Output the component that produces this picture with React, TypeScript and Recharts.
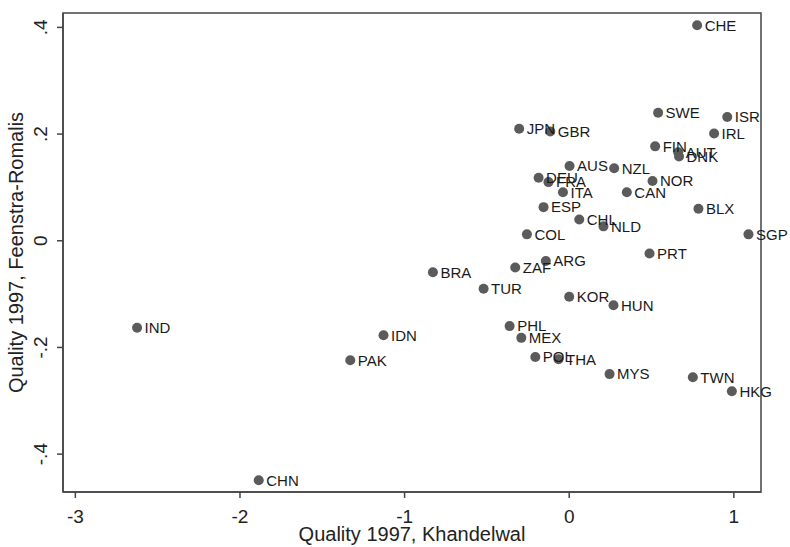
import {
  ScatterChart,
  Scatter,
  XAxis,
  YAxis,
  LabelList,
  Label,
  ReferenceArea,
} from "recharts";

// country codes and the two quality measures
const countries = [
  "CHE", "SWE", "ISR", "JPN", "GBR", "IRL", "FIN", "AUT", "DNK", "AUS",
  "NZL", "DEU", "FRA", "NOR", "ITA", "CAN", "ESP", "BLX", "CHL", "NLD",
  "COL", "SGP", "PRT", "BRA", "ZAF", "ARG", "TUR", "KOR", "HUN", "PHL",
  "MEX", "POL", "THA", "MYS", "TWN", "HKG", "IND", "IDN", "PAK", "CHN",
];

const khandelwal = [
  0.777, 0.54, 0.96, -0.304, -0.115, 0.88, 0.522, 0.662, 0.667, 0.002,
  0.273, -0.186, -0.126, 0.506, -0.038, 0.35, -0.156, 0.785, 0.061, 0.208,
  -0.257, 1.089, 0.488, -0.828, -0.328, -0.142, -0.52, 0.0, 0.269, -0.362,
  -0.291, -0.206, -0.065, 0.245, 0.751, 0.988, -2.625, -1.128, -1.33, -1.886,
];

const feenstraRomalis = [
  0.404, 0.24, 0.232, 0.21, 0.205, 0.201, 0.177, 0.166, 0.158, 0.14,
  0.136, 0.118, 0.11, 0.112, 0.091, 0.091, 0.063, 0.06, 0.04, 0.027,
  0.012, 0.012, -0.024, -0.059, -0.05, -0.038, -0.09, -0.105, -0.121, -0.16,
  -0.182, -0.218, -0.222, -0.25, -0.256, -0.282, -0.163, -0.177, -0.224, -0.449,
];

const xTicks = [-3, -2, -1, 0, 1];
const yTicks = [-0.4, -0.2, 0, 0.2, 0.4];

const xDomain = [-3.075, 1.165];
const yDomain = [-0.471, 0.427];

const FONT = "'Liberation Sans', Arial, sans-serif";
const FRAME = "#444";

const points = countries.map((name, i) => ({
  name,
  x: khandelwal[i],
  y: feenstraRomalis[i],
}));

// Stata style: ".4" instead of "0.4"
const fmtY = (v: number) => {
  if (v === 0) return "0";
  return v.toFixed(1).replace("0.", ".");
};

const YTick = ({ x, y, payload }: any) => (
  <text
    x={x - 8}
    y={y}
    transform={`rotate(-90, ${x - 8}, ${y})`}
    textAnchor="middle"
    fontSize={19}
    fontFamily={FONT}
    fill="#222"
  >
    {fmtY(payload.value)}
  </text>
);

const Dot = (props: any) => (
  <circle cx={props.cx} cy={props.cy} r={5} fill="#5b5b5b" />
);

export default function App() {
  return (
    <div style={{ position: "absolute", left: 0, top: 0, background: "#fff" }}>
      <ScatterChart
        width={790}
        height={547}
        margin={{ top: 13, right: 29, left: 0, bottom: 0 }}
      >
        <XAxis
          type="number"
          dataKey="x"
          domain={xDomain}
          ticks={xTicks}
          allowDataOverflow
          height={55}
          tickSize={6}
          tickMargin={12}
          stroke={FRAME}
          strokeWidth={1.5}
          tick={{ fill: "#222", fontSize: 19, fontFamily: FONT }}
        >
          <Label
            value="Quality 1997, Khandelwal"
            position="insideBottom"
            offset={6}
            fill="#222"
            fontSize={20}
            fontFamily={FONT}
          />
        </XAxis>
        <YAxis
          type="number"
          dataKey="y"
          domain={yDomain}
          ticks={yTicks}
          allowDataOverflow
          width={63}
          tickSize={6}
          tickMargin={2}
          stroke={FRAME}
          strokeWidth={1.5}
          tick={<YTick />}
        >
          <Label
            content={({ viewBox }: any) => {
              const cy = viewBox.y + viewBox.height / 2;
              return (
                <text
                  x={23}
                  y={cy}
                  transform={`rotate(-90, 23, ${cy})`}
                  textAnchor="middle"
                  fontSize={20}
                  fontFamily={FONT}
                  fill="#222"
                >
                  Quality 1997, Feenstra-Romalis
                </text>
              );
            }}
          />
        </YAxis>
        <ReferenceArea
          x1={xDomain[0]}
          x2={xDomain[1]}
          y1={yDomain[0]}
          y2={yDomain[1]}
          fill="none"
          stroke={FRAME}
          strokeWidth={1.5}
        />
        <Scatter data={points} shape={<Dot />} isAnimationActive={false}>
          <LabelList
            dataKey="name"
            position="right"
            offset={3}
            fill="#1a1a1a"
            fontSize={15}
            fontFamily={FONT}
          />
        </Scatter>
      </ScatterChart>
    </div>
  );
}
